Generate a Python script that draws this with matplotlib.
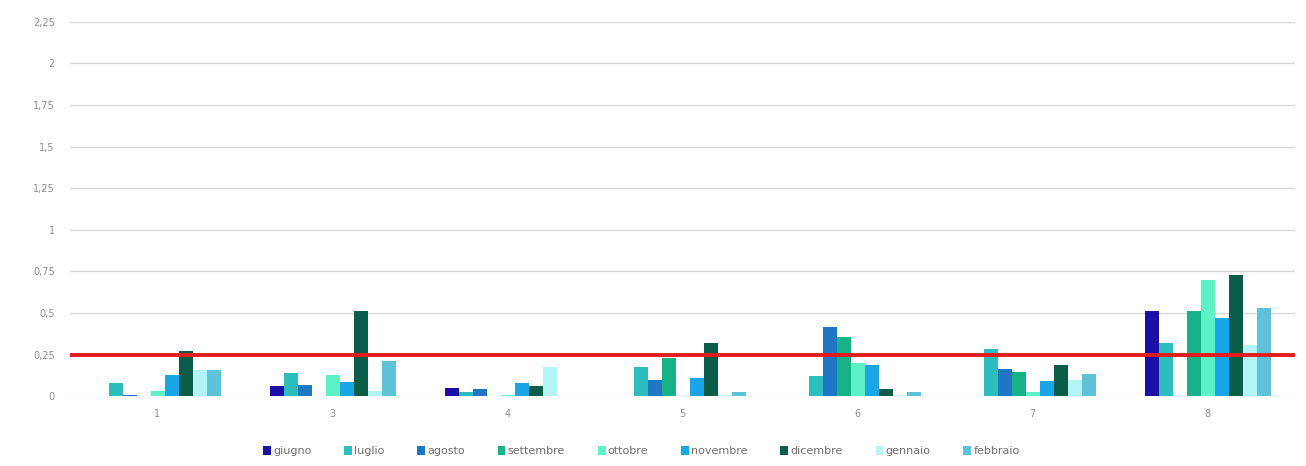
import numpy as np
import matplotlib.pyplot as plt
from matplotlib.patches import Patch

# Categories on the x axis
categorie = ['1', '3', '4', '5', '6', '7', '8']

# One series per month
mesi = ['giugno', 'luglio', 'agosto', 'settembre', 'ottobre',
        'novembre', 'dicembre', 'gennaio', 'febbraio']
colori = ['#1c0fa6', '#2dbdbd', '#1f76c4', '#17b386', '#5cf2c6',
          '#1aa6e6', '#0b5c48', '#b3f4f6', '#5ec2d8']

giugno = [0.0, 0.06, 0.05, 0.0, 0.0, 0.0, 0.513]
luglio = [0.08, 0.14, 0.025, 0.176, 0.12, 0.283, 0.32]
agosto = [0.005, 0.066, 0.04, 0.096, 0.415, 0.16, 0.0]
settembre = [0.0, 0.0, 0.0, 0.227, 0.353, 0.143, 0.51]
ottobre = [0.03, 0.127, 0.005, 0.0, 0.2, 0.025, 0.70]
novembre = [0.127, 0.086, 0.077, 0.11, 0.19, 0.09, 0.467]
dicembre = [0.27, 0.51, 0.06, 0.32, 0.04, 0.187, 0.73]
gennaio = [0.157, 0.03, 0.176, 0.005, 0.005, 0.097, 0.31]
febbraio = [0.157, 0.21, 0.0, 0.025, 0.025, 0.13, 0.527]
serie = [giugno, luglio, agosto, settembre, ottobre,
         novembre, dicembre, gennaio, febbraio]

soglia = 0.25
yticks = [0, 0.25, 0.5, 0.75, 1, 1.25, 1.5, 1.75, 2, 2.25]

fig = plt.figure(figsize=(13.06, 4.66), dpi=100)
ax = fig.add_axes([0.0536, 0.150, 0.938, 0.803])

x = np.arange(len(categorie))
w = 0.08
for i, (vals, c) in enumerate(zip(serie, colori)):
    ax.bar(x + (i - 4) * w, vals, width=w, color=c, zorder=3)

# threshold line
ax.axhline(soglia, color='#e31b1b', lw=2.8, zorder=4)

ax.set_xlim(-0.5, len(categorie) - 0.5)
ax.set_ylim(0, 2.25)
ax.set_yticks(yticks)
ax.set_yticklabels([f'{t:g}'.replace('.', ',') for t in yticks])
ax.set_xticks(x)
ax.set_xticklabels(categorie)
ax.tick_params(length=0, labelsize=7, labelcolor='#8c8c8c')
ax.tick_params(axis='y', pad=11)
ax.tick_params(axis='x', pad=9)
ax.grid(axis='y', color='#d9d9d9', lw=1, zorder=0)
for s in ax.spines.values():
    s.set_visible(False)

handles = [Patch(facecolor=c, label=m) for m, c in zip(mesi, colori)]
fig.legend(handles=handles, loc='center', bbox_to_anchor=(0.491, 0.032),
           ncol=9, frameon=False, fontsize=8, handlelength=0.7,
           handleheight=0.8, handletextpad=0.2, columnspacing=2.95,
           labelcolor='#6e6e6e')

fig.savefig('out.png', dpi=100, facecolor='white')
